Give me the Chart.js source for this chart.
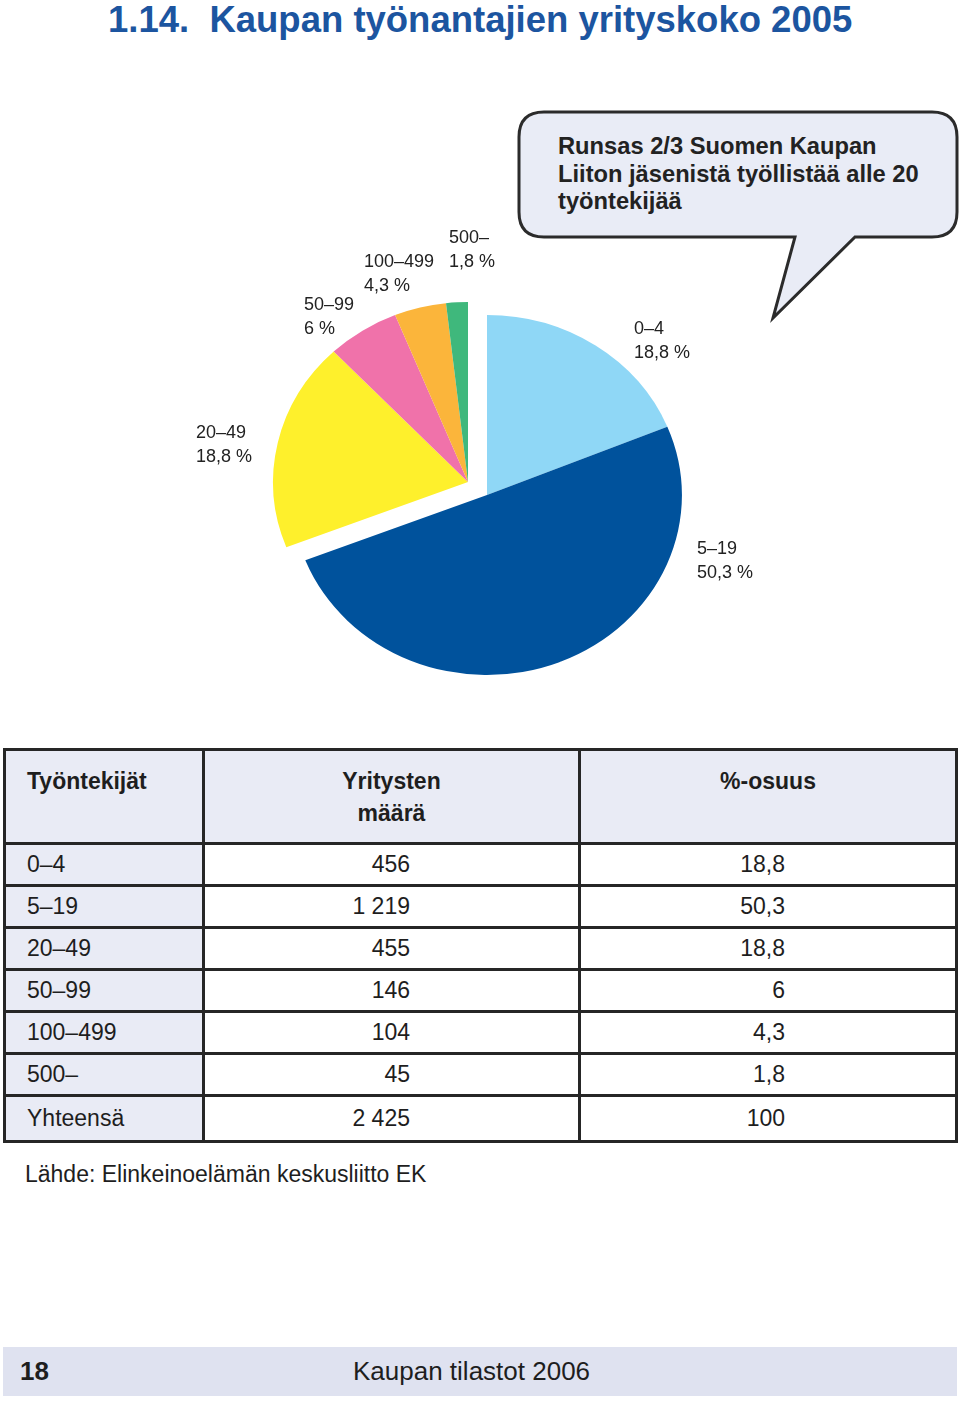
<!DOCTYPE html>
<html>
<head>
<meta charset="utf-8">
<script src="https://cdn.jsdelivr.net/npm/chart.js@4.4.1/dist/chart.umd.min.js"></script>
<style>
  body { margin: 0; width: 960px; height: 1404px; position: relative; background: #fff;
         font-family: "Liberation Sans", Arial, sans-serif; color: #1e1e1e; overflow: hidden; }
  .abs { position: absolute; white-space: nowrap; }
  #title { left: 108px; top: 0px; font-size: 36px; font-weight: bold; color: #1c55a0; line-height: 40px;
           transform-origin: 0 0; }
  .plabel { font-size: 18px; line-height: 24px; color: #222; z-index: 2; }
  #bubbleText { left: 558px; top: 133px; font-size: 23.7px; font-weight: bold; line-height: 27.5px; color: #222; }
  table { position: absolute; left: 3px; top: 748px; width: 952px; border-collapse: collapse;
          table-layout: fixed; font-size: 23px; }
  td, th { border: 3px solid #262626; padding: 0; box-sizing: border-box; }
  tr.head { height: 94px; }
  tr.row { height: 42px; }
  tr.total { height: 46px; }
  th { background: #e9ebf5; vertical-align: top; padding-top: 14px; line-height: 32px; }
  td.c1 { background: #e9ebf5; padding-left: 21px; }
  td.c2 { text-align: right; padding-right: 168px; }
  td.c3 { text-align: right; padding-right: 170px; }
  #source { left: 25px; top: 1161px; font-size: 23px; }
  #footer { position: absolute; left: 3px; top: 1347px; width: 954px; height: 49px; background: #dfe2f0; }
</style>
</head>
<body>
<div id="title" class="abs">1.14.&nbsp; Kaupan työnantajien yrityskoko 2005</div>

<svg class="abs" style="left:0;top:0" width="960" height="340">
  <path d="M 544 112 H 932 Q 957 112 957 137 V 212 Q 957 237 932 237 H 855 L 773 318 L 795 237 H 544 Q 519 237 519 212 V 137 Q 519 112 544 112 Z"
        fill="#e9ecf6" stroke="#2b2b2b" stroke-width="3" stroke-linejoin="miter"/>
</svg>
<div id="bubbleText" class="abs">Runsas 2/3 Suomen Kaupan<br>Liiton jäsenistä työllistää alle 20<br>työntekijää</div>

<canvas id="pie" width="520" height="460" class="abs" style="left:227px;top:262px"></canvas>
<div id="labels"></div>

<table id="tbl">
  <colgroup><col style="width:199px"><col style="width:376px"><col style="width:377px"></colgroup>
  <tbody id="tbody"></tbody>
</table>
<div id="source" class="abs">Lähde: Elinkeinoelämän keskusliitto EK</div>

<div id="footer"></div>
<div class="abs" style="left:20px;top:1356px;font-size:26px;font-weight:bold;">18</div>
<div class="abs" style="left:353px;top:1356px;font-size:26px;">Kaupan tilastot 2006</div>

<script>
const categories = ['0–4', '5–19', '20–49', '50–99', '100–499', '500–'];
const companies = [456, 1219, 455, 146, 104, 45];
const shares = [18.8, 50.3, 18.8, 6, 4.3, 1.8];
const totalCompanies = 2425;
const totalShare = 100;
const colors = ['#8fd7f6', '#00529c', '#fef02c', '#f072aa', '#fbb53b', '#3fb87c'];

const fmtNum = v => String(v).replace(/\B(?=(\d{3})+(?!\d))/g, ' ');
const fmtPct = v => String(v).replace('.', ',');

// title squeezed to the condensed width of the original
const title = document.getElementById('title');
title.style.transform = 'scaleX(' + (744 / title.offsetWidth) + ')';

// pie labels (placed by hand like the original)
const labelPos = [[634, 316], [697, 536], [196, 420], [304, 292], [364, 249], [449, 225]];
const labelsDiv = document.getElementById('labels');
categories.forEach((c, i) => {
  const d = document.createElement('div');
  d.className = 'abs plabel';
  d.style.left = labelPos[i][0] + 'px';
  d.style.top = labelPos[i][1] + 'px';
  d.innerHTML = c + '<br>' + fmtPct(shares[i]) + ' %';
  labelsDiv.appendChild(d);
});

// table
let html = '<tr class="head"><th style="text-align:left;padding-left:21px">Työntekijät</th>' +
           '<th>Yritysten<br>määrä</th><th>%-osuus</th></tr>';
categories.forEach((c, i) => {
  html += '<tr class="row"><td class="c1">' + c + '</td><td class="c2">' + fmtNum(companies[i]) +
          '</td><td class="c3">' + fmtPct(shares[i]) + '</td></tr>';
});
html += '<tr class="total"><td class="c1">Yhteensä</td><td class="c2">' + fmtNum(totalCompanies) +
        '</td><td class="c3">' + totalShare + '</td></tr>';
document.getElementById('tbody').innerHTML = html;

// exploded groups: the two blue slices stay, the rest move up-left together
const stretchX = 1.083;
const explode = {
  id: 'explode',
  beforeDatasetsDraw(chart) {
    const ctx = chart.ctx;
    chart.getDatasetMeta(0).data.forEach((arc, i) => {
      const shift = i < 2 ? [0, 3] : [-19, -10];
      ctx.save();
      ctx.translate(arc.x + shift[0], arc.y + shift[1]);
      ctx.scale(stretchX, 1);
      ctx.translate(-arc.x, -arc.y);
      arc.draw(ctx);
      ctx.restore();
    });
    return false;
  }
};

new Chart(document.getElementById('pie').getContext('2d'), {
  type: 'pie',
  data: {
    labels: categories,
    datasets: [{
      data: shares,
      backgroundColor: colors,
      borderWidth: 0,
      radius: 180
    }]
  },
  options: {
    responsive: false,
    animation: false,
    layout: { padding: 0 },
    plugins: { legend: { display: false }, tooltip: { enabled: false } }
  },
  plugins: [explode]
});
</script>
</body>
</html>
